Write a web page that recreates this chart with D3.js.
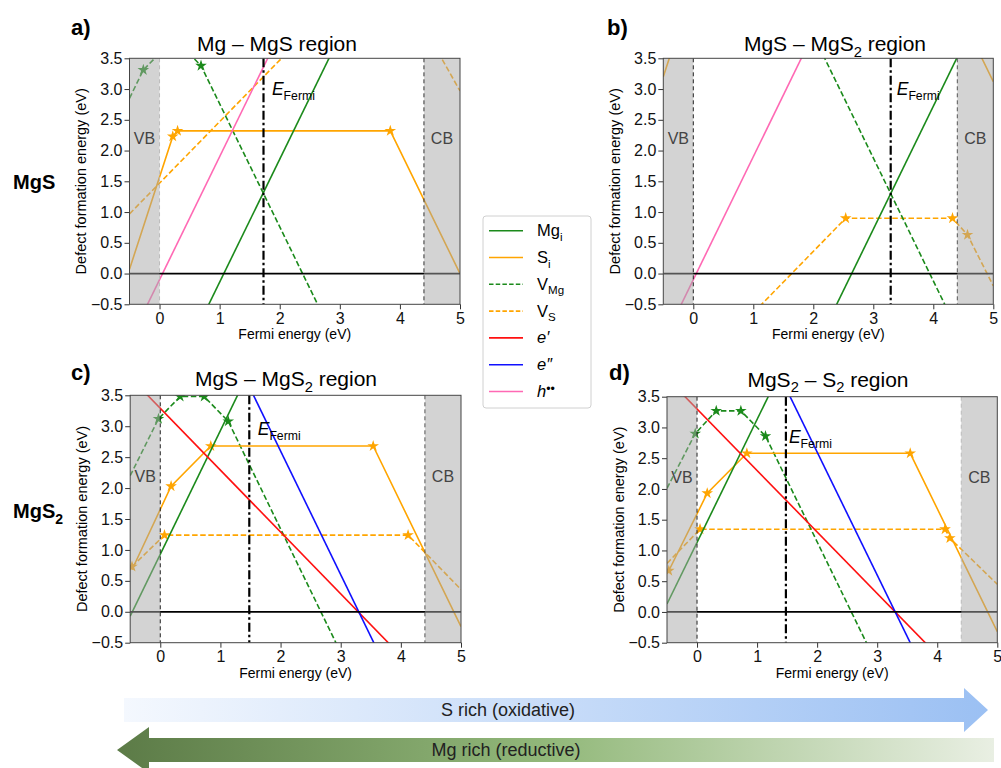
<!DOCTYPE html>
<html>
<head>
<meta charset="utf-8">
<script src="https://cdn.jsdelivr.net/npm/d3@7"></script>
<style>
  html, body { margin: 0; padding: 0; background: #fff; }
  svg { display: block; font-family: "Liberation Sans", Arial, "DejaVu Sans", sans-serif; }
</style>
</head>
<body>
<svg id="fig" width="1001" height="768"></svg>
<script>
// ---------- data ----------
const xDomain = [-0.5, 5];
const yDomain = [-0.5, 3.5];
const xTicks = [0, 1, 2, 3, 4, 5];
const yTicks = [-0.5, 0, 0.5, 1, 1.5, 2, 2.5, 3, 3.5];
const vbEdge = 0;      // valence band maximum (eV)
const cbEdge = 4.4;    // conduction band minimum (eV)

const panelIds = ["a", "b", "c", "d"];
const panelTitles = ["Mg – MgS region", "MgS – MgS_{2} region", "MgS – MgS_{2} region", "MgS_{2} – S_{2} region"];
const rowLabels = ["MgS", "MgS_{2}"];
const fermiLevel = [1.73, 3.29, 1.48, 1.48];

// [Fermi energy, formation energy, 1 = transition level marker]
const mgI = {
  a: [[-0.5, -3.14], [5, 7.86]],
  b: [[-0.5, -6.28], [5, 4.72]],
  c: [[-0.5, -0.07], [5, 10.93]],
  d: [[-0.5, 0.13], [5, 11.13]]
};
const sI = {
  a: [[-0.5, 0.07], [0.22, 2.23, 1], [0.30, 2.32, 1], [3.84, 2.32, 1], [5, 0.0]],
  b: [[-0.5, 3.2], [-0.1, 4.4], [4.36, 4.4], [5, 3.12]],
  c: [[-0.47, 0.68], [0.18, 2.03, 1], [0.84, 2.68, 1], [3.54, 2.68, 1], [5, -0.24]],
  d: [[-0.47, 0.67, 1], [0.17, 1.93, 1], [0.83, 2.58, 1], [3.55, 2.58, 1], [5, -0.32]]
};
const vMg = {
  a: [[-0.5, 2.85], [-0.27, 3.31, 1], [0.1, 3.68], [0.39, 3.68], [0.69, 3.38, 1], [5, -5.24]],
  b: [[-0.5, 8.88], [5, -2.12]],
  c: [[-0.5, 2.2], [-0.03, 3.12, 1], [0.33, 3.48, 1], [0.73, 3.48, 1], [1.13, 3.08, 1], [5, -4.66]],
  d: [[-0.5, 2.01], [-0.03, 2.9, 1], [0.32, 3.27, 1], [0.73, 3.27, 1], [1.14, 2.86, 1], [5, -4.86]]
};
const vS = {
  a: [[-0.5, 0.97], [2.45, 3.92], [4.45, 3.92], [5, 2.97]],
  b: [[-0.5, -2.14], [2.54, 0.9, 1], [4.32, 0.9, 1], [4.57, 0.63, 1], [5, -0.2]],
  c: [[-0.47, 0.73, 1], [0.07, 1.24, 1], [4.12, 1.24, 1], [5, 0.36]],
  d: [[-0.5, 0.79], [0.05, 1.345, 1], [4.13, 1.345, 1], [4.21, 1.2, 1], [5, 0.45]]
};
const eSingle = {
  c: [[-0.5, 3.79], [5, -1.71]],
  d: [[-0.5, 3.8], [5, -1.7]]
};
const eDouble = {
  c: [[-0.5, 7.6], [5, -3.4]],
  d: [[-0.5, 7.6], [5, -3.4]]
};
const hDouble = {
  a: [[-0.5, -1.1], [5, 9.9]],
  b: [[-0.5, -1.1], [5, 9.9]]
};

const seriesNames = ["Mg_{i}", "S_{i}", "V_{Mg}", "V_{S}", "*e′*", "*e″*", "*h*^{••}"];
const seriesData = [mgI, sI, vMg, vS, eSingle, eDouble, hDouble];
const arrowLabels = ["S rich (oxidative)", "Mg rich (reductive)"];

// ---------- styles & layout ----------
const seriesStyle = [
  { color: "#1b8a1b", dash: null },
  { color: "#ffa500", dash: null },
  { color: "#1b8a1b", dash: "5.5,2.6" },
  { color: "#ffa500", dash: "5.5,2.6" },
  { color: "#ff1010", dash: null },
  { color: "#1010ff", dash: null },
  { color: "#ff69b4", dash: null }
];
const frames = {
  a: { x: 129.5, y: 58.3, w: 330.5, h: 246, title: [277, 51], tag: [71, 35], fermiLab: [0.14, 2.9], edgeCol: ["#bbbbbb", "#333"] },
  b: { x: 663.3, y: 58.3, w: 330, h: 246, title: [835, 51], tag: [607, 35], fermiLab: [0.1, 2.9], edgeCol: ["#222", "#555"] },
  c: { x: 130.2, y: 395.3, w: 330.8, h: 247.4, title: [286, 386], tag: [71, 380], fermiLab: [0.14, 2.86], edgeCol: ["#222", "#555"] },
  d: { x: 667, y: 396.7, w: 330.3, h: 246, title: [828, 386.5], tag: [609, 380], fermiLab: [0.05, 2.74], edgeCol: ["#222", "#bbbbbb"] }
};
const rowLabelPos = [[13, 189], [13, 518]];

const svg = d3.select("#fig");
const defs = svg.append("defs");

// rich text: _{sub}, ^{sup}, *italic*
function rich(sel, str, size) {
  const re = /_\{([^}]*)\}|\^\{([^}]*)\}|\*([^*]*)\*|([^_^*]+)/g;
  let m, shift = 0;
  while ((m = re.exec(str))) {
    let t, dy = 0, fs = size, it = false;
    if (m[1] !== undefined) { t = m[1]; fs = size * 0.7; dy = size * 0.28; }
    else if (m[2] !== undefined) { t = m[2]; fs = size * 0.75; dy = -size * 0.22; }
    else if (m[3] !== undefined) { t = m[3]; it = true; }
    else t = m[4];
    sel.append("tspan").attr("dy", dy - shift).attr("font-size", fs)
      .attr("font-style", it ? "italic" : null).text(t);
    shift = dy;
  }
  return sel;
}

const star = d3.symbol().type(d3.symbolStar).size(42);

panelIds.forEach((id, i) => {
  const f = frames[id];
  const x = d3.scaleLinear().domain(xDomain).range([f.x, f.x + f.w]);
  const y = d3.scaleLinear().domain(yDomain).range([f.y + f.h, f.y]);
  const g = svg.append("g");

  defs.append("clipPath").attr("id", "clip-" + id)
    .append("rect").attr("x", f.x).attr("y", f.y).attr("width", f.w).attr("height", f.h);
  const plot = g.append("g").attr("clip-path", `url(#clip-${id})`);

  const line = d3.line().x(d => x(d[0])).y(d => y(d[1]));

  // defect lines, drawn back to front
  [3, 2, 1, 0, 4, 5, 6].forEach(k => {
    const pts = seriesData[k][id];
    if (!pts) return;
    const st = seriesStyle[k];
    plot.append("path").attr("d", line(pts)).attr("fill", "none")
      .attr("stroke", st.color).attr("stroke-width", 1.6)
      .attr("stroke-dasharray", st.dash);
    plot.selectAll(null).data(pts.filter(p => p[2])).join("path")
      .attr("d", star).attr("transform", p => `translate(${x(p[0])},${y(p[1])})`)
      .attr("fill", st.color);
  });

  // zero formation energy
  plot.append("line").attr("x1", f.x).attr("x2", f.x + f.w)
    .attr("y1", y(0)).attr("y2", y(0)).attr("stroke", "#000").attr("stroke-width", 1.8);

  // equilibrium Fermi level
  plot.append("line").attr("x1", x(fermiLevel[i])).attr("x2", x(fermiLevel[i]))
    .attr("y1", f.y).attr("y2", f.y + f.h).attr("stroke", "#000").attr("stroke-width", 2.2)
    .attr("stroke-dasharray", "9,3,2.5,3");

  // band regions
  [[xDomain[0], vbEdge], [cbEdge, xDomain[1]]].forEach(r => {
    plot.append("rect").attr("x", x(r[0])).attr("y", f.y)
      .attr("width", x(r[1]) - x(r[0])).attr("height", f.h)
      .attr("fill", "#a8a8a8").attr("fill-opacity", 0.5);
  });
  [vbEdge, cbEdge].forEach((e, k) => {
    plot.append("line").attr("x1", x(e)).attr("x2", x(e)).attr("y1", f.y).attr("y2", f.y + f.h)
      .attr("stroke", f.edgeCol[k]).attr("stroke-width", 1).attr("stroke-dasharray", "4,3");
  });
  g.append("text").attr("x", x((xDomain[0] + vbEdge) / 2)).attr("y", y(2.1))
    .attr("text-anchor", "middle").attr("font-size", 16).attr("fill", "#444").text("VB");
  g.append("text").attr("x", x((cbEdge + xDomain[1]) / 2)).attr("y", y(2.1))
    .attr("text-anchor", "middle").attr("font-size", 16).attr("fill", "#444").text("CB");

  // Fermi level label
  rich(g.append("text").attr("x", x(fermiLevel[i] + f.fermiLab[0])).attr("y", y(f.fermiLab[1]))
    .attr("fill", "#000"), "*E*_{Fermi}", 17.5);

  // axes
  const ax = g.append("g").attr("transform", `translate(0,${f.y + f.h})`)
    .call(d3.axisBottom(x).tickValues(xTicks).tickFormat(d3.format("d")).tickSize(5).tickPadding(3));
  const ay = g.append("g").attr("transform", `translate(${f.x},0)`)
    .call(d3.axisLeft(y).tickValues(yTicks).tickFormat(d3.format(".1f")).tickSize(5).tickPadding(2));
  [ax, ay].forEach(a => {
    a.select(".domain").remove();
    a.selectAll("text").attr("font-size", 16).attr("fill", "#111")
      .attr("font-family", "'Liberation Sans', Arial, sans-serif");
    a.selectAll("line").attr("stroke", "#333");
  });
  g.append("rect").attr("x", f.x).attr("y", f.y).attr("width", f.w).attr("height", f.h)
    .attr("fill", "none").attr("stroke", "#444").attr("stroke-width", 1);

  g.append("text").attr("x", f.x + f.w / 2).attr("y", f.y + f.h + 35)
    .attr("text-anchor", "middle").attr("font-size", 14).text("Fermi energy (eV)");
  g.append("text").attr("transform", `translate(${f.x - 43.5},${f.y + f.h / 2}) rotate(-90)`)
    .attr("text-anchor", "middle").attr("font-size", 14.5).text("Defect formation energy (eV)");

  // title and panel tag
  rich(g.append("text").attr("x", f.title[0]).attr("y", f.title[1]).attr("text-anchor", "middle"),
    panelTitles[i], 21);
  g.append("text").attr("x", f.tag[0]).attr("y", f.tag[1]).attr("font-size", 22)
    .attr("font-weight", "bold").text(id + ")");
});

// row labels
rowLabels.forEach((t, i) => {
  rich(svg.append("text").attr("x", rowLabelPos[i][0]).attr("y", rowLabelPos[i][1])
    .attr("font-weight", "bold"), t, 20);
});

// legend
const leg = svg.append("g");
leg.append("rect").attr("x", 483).attr("y", 216).attr("width", 108).attr("height", 192)
  .attr("rx", 3).attr("fill", "#fff").attr("stroke", "#d0d0d0");
seriesNames.forEach((n, k) => {
  const yy = 230.7 + k * 26.8;
  leg.append("line").attr("x1", 489).attr("x2", 523).attr("y1", yy).attr("y2", yy)
    .attr("stroke", seriesStyle[k].color).attr("stroke-width", 1.6)
    .attr("stroke-dasharray", seriesStyle[k].dash ? "4.5,2.2" : null);
  rich(leg.append("text").attr("x", 537).attr("y", yy + 5.5), n, 16.5);
});

// chemical potential direction arrows
const gradTop = defs.append("linearGradient").attr("id", "gTop");
gradTop.append("stop").attr("offset", 0).attr("stop-color", "#f4f8fe");
gradTop.append("stop").attr("offset", 1).attr("stop-color", "#9bc0f3");
const gradBot = defs.append("linearGradient").attr("id", "gBot");
gradBot.append("stop").attr("offset", 0).attr("stop-color", "#5c7b47");
gradBot.append("stop").attr("offset", 0.5).attr("stop-color", "#93b97b");
gradBot.append("stop").attr("offset", 1).attr("stop-color", "#e9efe3");

const arrowTop = { x0: 124, x1: 964, tip: 988, yc: 710, body: 12, head: 22 };
const arrowBot = { x0: 994, x1: 149, tip: 117, yc: 750, body: 12, head: 23 };
function arrowPath(a) {
  const p = d3.path();
  p.moveTo(a.x0, a.yc - a.body); p.lineTo(a.x1, a.yc - a.body); p.lineTo(a.x1, a.yc - a.head);
  p.lineTo(a.tip, a.yc); p.lineTo(a.x1, a.yc + a.head); p.lineTo(a.x1, a.yc + a.body);
  p.lineTo(a.x0, a.yc + a.body); p.closePath();
  return p.toString();
}
svg.append("path").attr("d", arrowPath(arrowTop)).attr("fill", "url(#gTop)");
svg.append("path").attr("d", arrowPath(arrowBot)).attr("fill", "url(#gBot)");
svg.append("text").attr("x", 508).attr("y", arrowTop.yc + 6).attr("text-anchor", "middle")
  .attr("font-size", 18).attr("fill", "#222").text(arrowLabels[0]);
svg.append("text").attr("x", 506).attr("y", arrowBot.yc + 6).attr("text-anchor", "middle")
  .attr("font-size", 18).attr("fill", "#222").text(arrowLabels[1]);
</script>
</body>
</html>
